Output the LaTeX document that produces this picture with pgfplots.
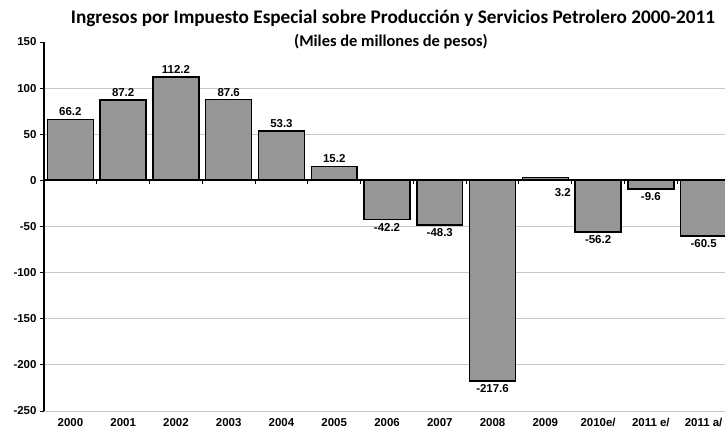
\documentclass[border=0pt]{standalone}
\usepackage{fontspec}
\setmainfont{Liberation Sans}
\newfontfamily\titlefont{Carlito}
\usepackage{pgfplots}
\pgfplotsset{compat=1.18}
\definecolor{barfill}{RGB}{150,150,150}
\definecolor{gridgray}{RGB}{200,200,200}

\begin{document}
\begin{tikzpicture}
\begin{axis}[
    scale only axis,
    width=686bp, height=369bp,
    xmin=-0.5, xmax=12.5,
    ymin=-250, ymax=150,
    ybar, bar shift=0pt, bar width=0.87,
    axis lines=left,
    axis line style={-, black, line width=1.2bp},
    x axis line style={draw=none},
    xtick={0,...,12},
    xticklabels={2000,2001,2002,2003,2004,2005,2006,2007,2008,2009,2010e/,2011 e/,2011 a/},
    xtick style={draw=none},
    ytick={-250,-200,...,100},
    extra y ticks={150},
    extra y tick style={grid=none},
    ymajorgrids,
    grid style={gridgray, line width=1bp},
    tick align=outside,
    major tick length=4bp,
    ytick style={black, line width=1bp},
    ticklabel style={font=\bfseries\fontsize{11.5}{12}\selectfont},
    /pgf/number format/assume math mode=true,
    nodes near coords={\pgfmathprintnumber[fixed,precision=1,fixed zerofill]{\pgfplotspointmeta}},
    every node near coord/.append style={font=\bfseries\fontsize{11.5}{12}\selectfont, text=black},
    clip=false,
]
% positivos
\addplot[fill=barfill, draw=black, line width=1.5bp,
  every node near coord/.append style={anchor=south, inner sep=2.5bp}]
  coordinates {(0,66.2) (1,87.2) (2,112.2) (3,87.6) (4,53.3) (5,15.2)};
% negativos
\addplot[fill=barfill, draw=black, line width=1.5bp,
  every node near coord/.append style={anchor=north, inner sep=3bp}]
  coordinates {(6,-42.2) (7,-48.3) (8,-217.6) (10,-56.2) (11,-9.6) (12,-60.5)};
% 2009
\addplot[fill=barfill, draw=black, line width=1.5bp,
  every node near coord/.append style={anchor=center, xshift=17.5bp, yshift=-15bp}]
  coordinates {(9,3.2)};
\draw[black, line width=1.8bp] (axis cs:-0.5,0) -- (axis cs:12.5,0);
\pgfplotsinvokeforeach{0.5,1.5,...,11.5}{
  \draw[black, line width=1bp] (axis cs:#1,0) -- ([yshift=-4bp]axis cs:#1,0);
}
\coordinate (O) at (rel axis cs:0,0);
\end{axis}
\node[font=\titlefont\bfseries\fontsize{19.3}{21}\selectfont, inner sep=0pt] at ([shift={(349bp,393bp)}]O)
  {Ingresos por Impuesto Especial sobre Producción y Servicios Petrolero 2000-2011};
\node[font=\titlefont\bfseries\fontsize{16.5}{18}\selectfont, inner sep=0pt] at ([shift={(347bp,369bp)}]O)
  {(Miles de millones de pesos)};
\pgfresetboundingbox
\path[use as bounding box] ([shift={(-44bp,-25bp)}]O) rectangle ([shift={(681bp,411bp)}]O);
\end{tikzpicture}
\end{document}
